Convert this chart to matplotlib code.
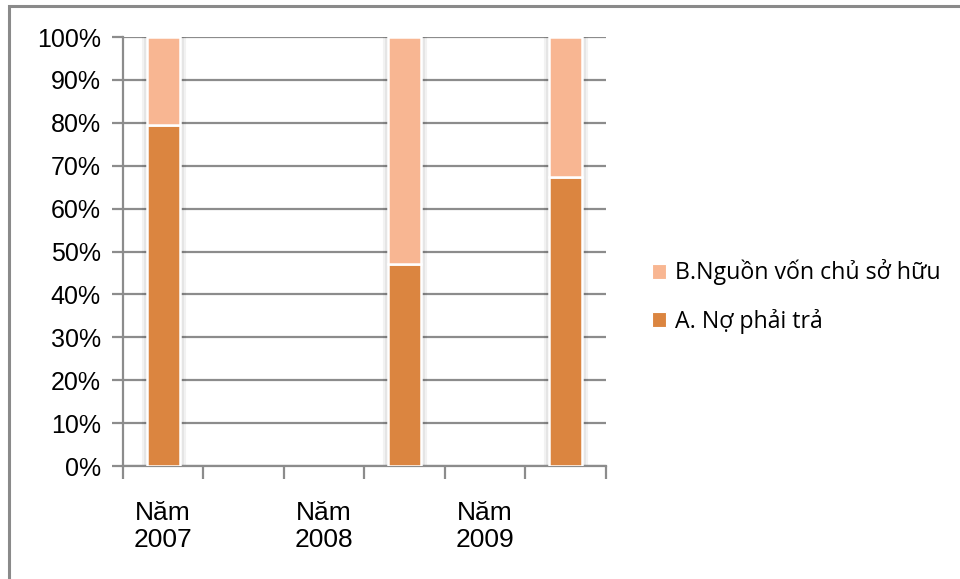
import numpy as np
import matplotlib
matplotlib.use("Agg")
import matplotlib.pyplot as plt
import matplotlib.patheffects as pe
from matplotlib.patches import Rectangle, Patch
from matplotlib.ticker import FixedLocator, PercentFormatter

# Cơ cấu nguồn vốn (%), six category slots on the x axis
categories = ["Năm\n2007", "", "Năm\n2008", "", "Năm\n2009", ""]
no_phai_tra = [79.5, np.nan, np.nan, 47.1, np.nan, 67.4]
von_chu_so_huu = [20.5, np.nan, np.nan, 52.9, np.nan, 32.6]
series_names = ["A. Nợ phải trả", "B.Nguồn vốn chủ sở hữu"]
y_ticks = [0, 10, 20, 30, 40, 50, 60, 70, 80, 90, 100]

dark = "#DB8540"
light = "#F8B692"
grid_c = "#8C8C8C"

fig = plt.figure(figsize=(9.6, 5.79), dpi=100)
ax = fig.add_axes([0.128, 0.195, 0.503, 0.741])

x = np.arange(len(categories))
total = np.array(no_phai_tra) + np.array(von_chu_so_huu)

# soft shadow around each stacked column
shadow = [pe.Stroke(linewidth=8, foreground="#000000", alpha=0.05),
          pe.Stroke(linewidth=5, foreground="#000000", alpha=0.05),
          pe.Normal()]
sh = ax.bar(x, total, width=0.41, color="white", linewidth=0, zorder=2.5)
for r in sh:
    r.set_path_effects(shadow)

b1 = ax.bar(x, no_phai_tra, width=0.41, color=dark, edgecolor="white",
            linewidth=1.8, zorder=3)
b2 = ax.bar(x, von_chu_so_huu, width=0.41, bottom=no_phai_tra, color=light,
            edgecolor="white", linewidth=1.8, zorder=3)

ax.set_xlim(-0.5, len(categories) - 0.5)
ax.set_ylim(0, 100)
ax.yaxis.set_major_locator(FixedLocator(y_ticks))
ax.yaxis.set_major_formatter(PercentFormatter(decimals=0))
ax.grid(axis="y", color=grid_c, linewidth=1.6, zorder=0)
ax.set_axisbelow(True)

ax.set_xticks(x)
ax.set_xticklabels(categories, fontsize=19, family="Liberation Sans",
                   linespacing=1.15)
ax.tick_params(axis="x", which="major", length=0, pad=25)
ax.set_xticks(np.arange(-0.5, len(categories)), minor=True)
ax.tick_params(axis="x", which="minor", length=9, width=1.6, color=grid_c,
               direction="out")
ax.tick_params(axis="y", length=8, width=1.6, color=grid_c, pad=8,
               labelsize=18)
for lab in ax.get_yticklabels():
    lab.set_family("Liberation Sans")

for side in ("top", "right"):
    ax.spines[side].set_visible(False)
for side in ("left", "bottom"):
    ax.spines[side].set_color(grid_c)
    ax.spines[side].set_linewidth(1.6)

handles = [Patch(facecolor=light, edgecolor="white", linewidth=0.8),
           Patch(facecolor=dark, edgecolor="white", linewidth=0.8)]
leg = fig.legend(handles, [series_names[1], series_names[0]],
                 loc="center left", bbox_to_anchor=(0.657, 0.488),
                 frameon=False, prop={"family": "Open Sans", "size": 16.7},
                 handlelength=0.6, handleheight=0.6, handletextpad=0.4,
                 labelspacing=1.0)

# outer chart frame (top and left edges show inside the image)
fig.patches.append(Rectangle((0.009, -0.05), 1.2, 1.039, transform=fig.transFigure,
                             fill=False, edgecolor="#8A8A8A", linewidth=2.2))

fig.savefig("out.png", dpi=100, facecolor="white")
